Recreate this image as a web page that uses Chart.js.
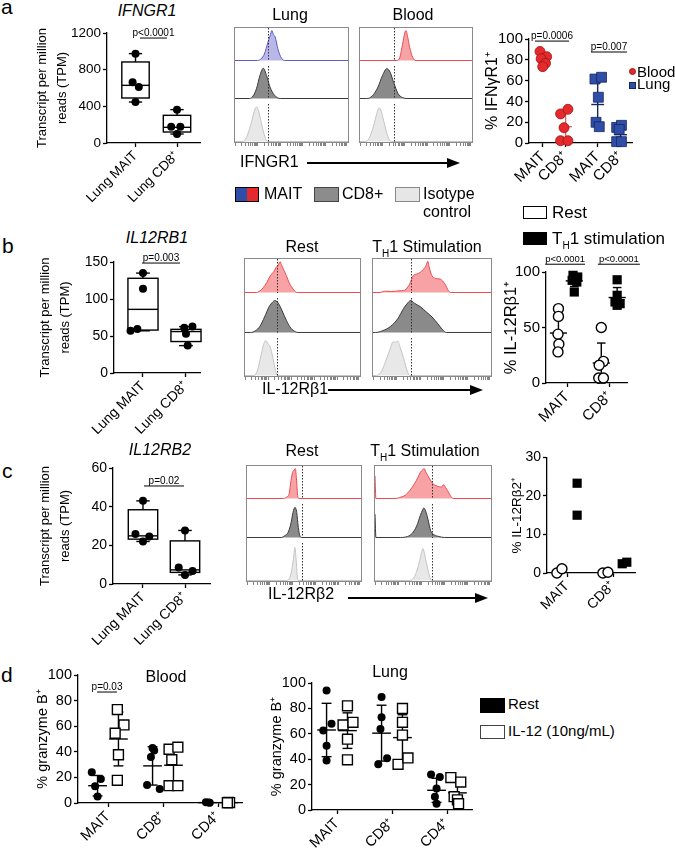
<!DOCTYPE html>
<html>
<head>
<meta charset="utf-8">
<script src="https://cdn.jsdelivr.net/npm/chart.js@4.4.1/dist/chart.umd.min.js"></script>
<style>
  html, body { margin: 0; padding: 0; background: #fff; }
  #fig { position: relative; width: 675px; height: 852px; overflow: hidden;
         font-family: "Liberation Sans", Arial, Helvetica, sans-serif; color: #000; }
  #fig canvas { position: absolute; }
  .t { position: absolute; white-space: nowrap; line-height: 1; }
  .r { position: absolute; box-sizing: border-box; }
  .sub { font-size: 10px; position: relative; top: 5px; }
</style>
</head>
<body>
<div id="fig"></div>
<script>
// ---------- data ----------

// a, left: IFNGR1 transcripts (TPM)
const tpmLabels = ['Lung MAIT', 'Lung CD8⁺'];
const ifngr1Mait = [975, 662, 611, 447];
const ifngr1MaitJit = [0, -0.07, 0.08, 0];
const ifngr1Cd8 = [364, 178, 178, 98];
const ifngr1Cd8Jit = [0, -0.14, 0.08, 0];
// box stats: min, q1, median, q3, max
const ifngr1MaitBox = [447, 491, 629, 884, 975];
const ifngr1Cd8Box = [98, 120, 171, 302, 364];

// b, left: IL12RB1 transcripts
const il12rb1Mait = [135, 114, 57, 59.5];
const il12rb1MaitJit = [0, 0, -0.29, -0.13];
const il12rb1Cd8 = [61, 62.7, 53, 37];
const il12rb1Cd8Jit = [-0.04, 0.15, 0, 0.04];
const il12rb1MaitBox = [57, 58, 86, 128, 135];
const il12rb1Cd8Box = [37, 42.5, 56, 59, 62.7];

// c, left: IL12RB2 transcripts
const il12rb2Mait = [43, 25.8, 24.6, 22];
const il12rb2MaitJit = [0, -0.18, 0.15, 0];
const il12rb2Cd8 = [27.7, 8.5, 6.7, 4.7];
const il12rb2Cd8Jit = [0, -0.15, 0.18, 0];
const il12rb2MaitBox = [22, 23.2, 24.9, 38.4, 43];
const il12rb2Cd8Box = [4.7, 6, 7.3, 22.3, 27.7];

// a, right: % IFNgR1+
const ifngCats = ['MAIT', 'CD8⁺', 'MAIT', 'CD8⁺'];
const ifngBloodMait = [88, 83, 81, 76.6, 73.4];
const ifngBloodMaitJit = [-0.12, 0.17, -0.07, 0.12, 0];
const ifngBloodCd8 = [28, 32.4, 14.7, 2.2, 2.2];
const ifngBloodCd8Jit = [-0.22, 0.1, -0.07, -0.22, 0.1];
const ifngLungMait = [61.5, 63.2, 44, 19.9, 15.7];
const ifngLungMaitJit = [-0.12, 0.17, 0.03, -0.07, 0.07];
const ifngLungCd8 = [15, 17, 13, 1.3, 1.3];
const ifngLungCd8Jit = [-0.17, 0.04, -0.06, -0.17, 0.04];
const ifngMean = [80, 15.7, 37, 8];
const ifngSd = [5, 14, 21, 7.5];

// b, right: % IL-12Rb1+
const rb1Cats = ['MAIT', 'CD8⁺'];
const rb1RestMait = [67, 60, 44, 35, 28];
const rb1RestMaitJit = [0, 0, -0.01, 0.01, -0.01];
const rb1StimMait = [97, 95.5, 92.5, 91, 82];
const rb1StimMaitJit = [-0.03, 0.08, -0.05, 0.06, 0];
const rb1RestCd8 = [50, 19.5, 16, 4.5, 4.5];
const rb1RestCd8Jit = [0, 0.05, -0.05, -0.06, 0.05];
const rb1StimCd8 = [93, 79, 73, 71.5, 70];
const rb1StimCd8Jit = [0, 0, -0.05, 0.07, 0];
const rb1RestMean = [45, 18];
const rb1RestSd = [16, 18];
const rb1StimMean = [92, 77];
const rb1StimSd = [5, 9];

// c, right: % IL-12Rb2+
const rb2Cats = ['MAIT', 'CD8⁺'];
const rb2RestMait = [0, 1.1];
const rb2StimMait = [23.3, 15];
const rb2RestCd8 = [0, 0.2];
const rb2StimCd8 = [2.4, 2.8];
const rb2RestJit = [-0.02, 0.09];
const rb2StimMaitJit = [0.02, 0.02];
const rb2StimCd8Jit = [0, 0.1];

// d: % granzyme B+
const gzbCats = ['MAIT', 'CD8⁺', 'CD4⁺'];
const bloodRestMait = [24, 18.7, 13, 5];
const bloodRestMaitJit = [-0.105, 0.06, -0.045, 0];
const bloodStimMait = [73, 61, 54.5, 37.7, 17.7];
const bloodStimMaitJit = [-0.02, 0.1, -0.06, 0, -0.02];
const bloodRestCd8 = [43, 41, 36, 14, 11];
const bloodRestCd8Jit = [0, 0.03, -0.03, -0.1, 0.13];
const bloodStimCd8 = [42, 43.6, 33.8, 13.5, 13.5];
const bloodStimCd8Jit = [-0.08, 0.08, -0.03, -0.08, 0.08];
const bloodRestCd4 = [0.5, 0.3, 0.2];
const bloodRestCd4Jit = [-0.03, 0.02, 0.04];
const bloodStimCd4 = [0.5, 0.3, 0.2];
const bloodStimCd4Jit = [0, 0.02, -0.02];
const bloodRestMean = [13.5, 29, 0.3];
const bloodRestSd = [8, 15, 0];
const bloodStimMean = [50, 29.5, 0.3];
const bloodStimSd = [21, 14, 0];

const lungRestMait = [94, 68, 62.6, 50.5, 38.9];
const lungRestMaitJit = [0, 0.09, -0.06, 0, 0];
const lungStimMait = [82, 67, 69, 55.8, 39.5];
const lungStimMaitJit = [0, -0.08, 0.1, 0, 0];
const lungRestCd8 = [89, 73, 63.7, 36, 40.8];
const lungRestCd8Jit = [0, 0, -0.02, -0.06, 0.1];
const lungStimCd8 = [80, 69, 59, 36, 41];
const lungStimCd8Jit = [0, 0, 0, -0.08, 0.1];
const lungRestCd4 = [28, 26, 17, 10.5, 5];
const lungRestCd4Jit = [-0.1, 0.06, 0, -0.03, 0];
const lungStimCd4 = [25.5, 22, 10.5, 8, 5];
const lungStimCd4Jit = [-0.12, 0.06, -0.06, 0, 0.02];
const lungRestMean = [63, 60.5, 15.5];
const lungRestSd = [21, 22, 9.5];
const lungStimMean = [62.5, 57, 13.5];
const lungStimSd = [14, 18, 8.5];

// flow histograms: [position (decades), % of mode]
const aLungMait = [[0,0],[1.0,0],[1.15,5],[1.3,20],[1.45,55],[1.55,75],[1.63,92],[1.7,80],[1.78,72],[1.9,35],[2.05,8],[2.2,0],[5,0]];
const aLungCd8 = [[0,0],[0.65,0],[0.8,8],[0.95,30],[1.1,70],[1.25,93],[1.4,70],[1.55,35],[1.75,10],[2.0,0],[5,0]];
const aLungIso = [[0,0],[0.35,0],[0.5,10],[0.7,45],[0.85,80],[0.95,92],[1.05,80],[1.2,40],[1.35,8],[1.45,0],[5,0]];
const aBloodMait = [[0,0],[1.65,0],[1.78,10],[1.9,50],[2.0,85],[2.05,92],[2.12,75],[2.22,40],[2.35,10],[2.5,0],[5,0]];
const aBloodCd8 = [[0,0],[0.3,0],[0.55,8],[0.8,35],[1.0,70],[1.2,92],[1.35,80],[1.5,50],[1.7,15],[1.9,3],[2.1,0],[5,0]];
const aBloodIso = [[0,0],[0.25,0],[0.4,8],[0.6,40],[0.75,75],[0.85,90],[0.95,80],[1.1,45],[1.25,12],[1.4,0],[5,0]];

const bRestMait = [[0,0],[0.5,0],[0.65,5],[0.8,15],[0.95,30],[1.1,50],[1.25,62],[1.35,75],[1.45,82],[1.52,92],[1.6,80],[1.7,65],[1.8,50],[1.95,25],[2.1,10],[2.25,0],[5,0]];
const bRestCd8 = [[0,0],[0.25,0],[0.45,5],[0.65,18],[0.85,45],[1.05,75],[1.2,88],[1.3,93],[1.45,85],[1.6,65],[1.8,35],[2.0,12],[2.2,2],[2.3,0],[5,0]];
const bRestIso = [[0,0],[0.4,0],[0.55,15],[0.7,55],[0.82,85],[0.9,93],[1.0,85],[1.1,75],[1.2,50],[1.3,20],[1.4,0],[5,0]];
const bStimMait = [[0,0],[0.3,0],[0.5,4],[0.8,3],[1.1,5],[1.3,6],[1.4,10],[1.55,25],[1.7,50],[1.85,55],[2.0,60],[2.15,70],[2.25,80],[2.32,93],[2.4,70],[2.5,50],[2.65,42],[2.85,40],[3.05,25],[3.2,5],[3.3,0],[5,0]];
const bStimCd8 = [[0,0],[0.1,0],[0.4,5],[0.75,18],[1.05,40],[1.3,70],[1.5,88],[1.6,93],[1.75,85],[2.0,75],[2.25,60],[2.5,45],[2.75,25],[2.95,8],[3.1,0],[5,0]];
const bStimIso = [[0,0],[0.15,0],[0.35,10],[0.55,40],[0.75,75],[0.85,90],[0.95,88],[1.05,92],[1.15,75],[1.3,45],[1.45,12],[1.55,0],[5,0]];

const cRestMait = [[0,0],[1.6,0],[1.75,5],[1.85,15],[1.93,55],[2.0,80],[2.07,88],[2.12,92],[2.17,60],[2.22,10],[2.28,0],[5,0]];
const cRestCd8 = [[0,0],[1.5,0],[1.65,5],[1.8,15],[1.92,40],[2.02,75],[2.1,90],[2.18,75],[2.25,30],[2.32,5],[2.38,0],[5,0]];
const cRestIso = [[0,0],[1.75,0],[1.88,8],[1.97,30],[2.05,65],[2.1,88],[2.15,60],[2.2,15],[2.25,0],[5,0]];
const cStimMait = [[0,70],[0.04,0],[0.9,0],[1.05,3],[1.3,10],[1.5,25],[1.7,45],[1.85,65],[1.95,80],[2.05,88],[2.12,92],[2.2,80],[2.28,70],[2.4,55],[2.55,42],[2.7,38],[2.85,35],[2.95,42],[3.05,33],[3.2,15],[3.3,3],[3.4,0],[5,0]];
const cStimCd8 = [[0,70],[0.04,0],[1.1,0],[1.4,3],[1.6,12],[1.8,35],[1.95,65],[2.05,82],[2.1,88],[2.18,80],[2.28,55],[2.4,20],[2.55,8],[2.75,3],[3.0,0],[5,0]];
const cStimIso = [[0,0],[1.5,0],[1.7,10],[1.85,35],[1.95,60],[2.02,78],[2.07,85],[2.12,75],[2.22,45],[2.35,12],[2.45,0],[5,0]];

// ---------- setup ----------
Chart.defaults.font.family = '"Liberation Sans", Arial, Helvetica, sans-serif';
Chart.defaults.color = '#000';

const fig = document.getElementById('fig');

const RED = '#e42a2c', RED_D = '#9c1414', BLUE = '#2f4ea8', BLUE_D = '#16265e';
const LUNG_H = ['#b9b7e8', '#5c5cc4'];
const BLOOD_H = ['#f7a3a6', '#ee4b50'];
const DARK_H = ['#8a8a8a', '#3a3a3a'];
const LIGHT_H = ['#e8e8e8', '#c4c4c4'];

const logMinor = [];
for (let d = 0; d < 5; d++) for (let k = 1; k < 10; k++) logMinor.push(d + Math.log10(k));
logMinor.push(5);

function addCanvas(x, y, w, h) {
  const c = document.createElement('canvas');
  c.width = Math.round(w); c.height = Math.round(h);
  c.style.left = Math.round(x) + 'px';
  c.style.top = Math.round(y) + 'px';
  fig.appendChild(c);
  return c;
}

function label(html, x, base, size, o = {}) {
  const d = document.createElement('div');
  d.className = 't';
  d.innerHTML = html;
  d.style.left = x + 'px';
  d.style.top = (base - 0.85 * size) + 'px';
  d.style.fontSize = size + 'px';
  if (o.center) d.style.transform = 'translateX(-50%)';
  if (o.italic) d.style.fontStyle = 'italic';
  fig.appendChild(d);
}

function rect(x0, y0, x1, y1, css) {
  const d = document.createElement('div');
  d.className = 'r';
  d.style.cssText = `left:${x0}px;top:${y0}px;width:${x1 - x0}px;height:${y1 - y0}px;` + css;
  fig.appendChild(d);
}

function arrow(x0, x1, y) {
  rect(x0, y - 0.7, x1 - 12, y + 0.7, 'background:#000');
  const h = document.createElement('div');
  h.className = 'r';
  h.style.cssText = `left:${x1 - 13}px;top:${y - 5.5}px;width:0;height:0;border-left:13px solid #000;border-top:5.5px solid transparent;border-bottom:5.5px solid transparent;`;
  fig.appendChild(h);
}

function seg(ctx, x0, y0, x1, y1) {
  ctx.beginPath(); ctx.moveTo(x0, y0); ctx.lineTo(x1, y1); ctx.stroke();
}

// boxes, mean/SD bars, p-value bars and gate lines, all placed through the chart scales
function marks(cfg) {
  return {
    id: 'marks',
    beforeDatasetsDraw(chart) {
      const ctx = chart.ctx, X = chart.scales.x, Y = chart.scales.y;
      ctx.save();
      ctx.lineWidth = 1.4;
      ctx.strokeStyle = '#000';
      (cfg.boxes || []).forEach(b => {
        const [mn, q1, md, q3, mx] = b.s;
        const xl = X.getPixelForValue(b.x - b.half), xr = X.getPixelForValue(b.x + b.half);
        const xc = X.getPixelForValue(b.x);
        const cl = X.getPixelForValue(b.x - b.cap), cr = X.getPixelForValue(b.x + b.cap);
        const pq1 = Y.getPixelForValue(q1), pq3 = Y.getPixelForValue(q3);
        ctx.strokeRect(xl, pq3, xr - xl, pq1 - pq3);
        seg(ctx, xl, Y.getPixelForValue(md), xr, Y.getPixelForValue(md));
        seg(ctx, xc, pq3, xc, Y.getPixelForValue(mx));
        seg(ctx, cl, Y.getPixelForValue(mx), cr, Y.getPixelForValue(mx));
        seg(ctx, xc, pq1, xc, Y.getPixelForValue(mn));
        seg(ctx, cl, Y.getPixelForValue(mn), cr, Y.getPixelForValue(mn));
      });
      (cfg.bars || []).forEach(b => {
        ctx.strokeStyle = b.color || '#000';
        const xc = X.getPixelForValue(b.x);
        const top = Y.getPixelForValue(b.mean + b.sd);
        const bot = Y.getPixelForValue(Math.max(b.mean - b.sd, 0));
        const cl = X.getPixelForValue(b.x - b.cap), cr = X.getPixelForValue(b.x + b.cap);
        if (b.sd > 0) {
          seg(ctx, xc, top, xc, bot);
          seg(ctx, cl, top, cr, top);
          seg(ctx, cl, bot, cr, bot);
        }
        const ml = X.getPixelForValue(b.x - b.half), mr = X.getPixelForValue(b.x + b.half);
        seg(ctx, ml, Y.getPixelForValue(b.mean), mr, Y.getPixelForValue(b.mean));
      });
      ctx.restore();
    },
    afterDatasetsDraw(chart) {
      const ctx = chart.ctx, X = chart.scales.x, Y = chart.scales.y, a = chart.chartArea;
      ctx.save();
      (cfg.gates || []).forEach(g => {
        const px = Math.round(X.getPixelForValue(g)) + 0.5;
        ctx.strokeStyle = '#333';
        ctx.lineWidth = 1;
        ctx.setLineDash([1.5, 1.5]);
        seg(ctx, px, a.top, px, a.bottom);
      });
      ctx.setLineDash([]);
      (cfg.sigs || []).forEach(s => {
        const x0 = X.getPixelForValue(s.x1), x1 = X.getPixelForValue(s.x2), py = Y.getPixelForValue(s.y);
        ctx.strokeStyle = '#000';
        ctx.lineWidth = 1;
        seg(ctx, x0, py, x1, py);
        ctx.fillStyle = '#000';
        ctx.font = (s.size || 10) + 'px "Liberation Sans", Arial, sans-serif';
        ctx.textAlign = 'center';
        ctx.textBaseline = 'alphabetic';
        ctx.fillText(s.text, (x0 + x1) / 2, py - 2);
      });
      ctx.restore();
    }
  };
}

function pts(cx, vals, jit) {
  return vals.map((v, i) => ({x: cx + (jit ? jit[i] : 0), y: v}));
}

function dots(data, style) {
  return Object.assign({data, clip: false}, style);
}

const blackDot = {pointStyle: 'circle', pointRadius: 4, pointBackgroundColor: '#000', pointBorderColor: '#000', pointBorderWidth: 0};
const openCircle = {pointStyle: 'circle', pointRadius: 5, pointBackgroundColor: '#fff', pointBorderColor: '#000', pointBorderWidth: 1.4};
const blackSquare = {pointStyle: 'rect', pointRadius: 6.5, pointBackgroundColor: '#000', pointBorderColor: '#000', pointBorderWidth: 0};
const openSquare = {pointStyle: 'rect', pointRadius: 7, pointBackgroundColor: '#fff', pointBorderColor: '#000', pointBorderWidth: 1.4};
const redDot = {pointStyle: 'circle', pointRadius: 5, pointBackgroundColor: RED, pointBorderColor: RED_D, pointBorderWidth: 0.8};
const blueSquare = {pointStyle: 'rect', pointRadius: 7, pointBackgroundColor: BLUE, pointBorderColor: BLUE_D, pointBorderWidth: 0.8};

function axisChart(o) {
  const [x0, y0, x1, y1] = o.area;
  const m = o.margin;
  const cv = addCanvas(x0 - m.l, y0 - m.t, x1 - x0 + m.l + m.r, y1 - y0 + m.t + m.b);
  const grid = {display: true, drawOnChartArea: false, drawTicks: true, tickLength: 4, tickWidth: 1.3, color: '#000'};
  const border = {color: '#000', width: 1.3};
  return new Chart(cv, {
    type: 'scatter',
    data: {datasets: o.datasets},
    options: {
      responsive: false,
      animation: false,
      events: [],
      layout: {padding: {left: 0, top: m.t, right: m.r, bottom: 0}, autoPadding: false},
      plugins: {legend: {display: false}, tooltip: {enabled: false}},
      scales: {
        x: {
          type: 'linear', min: o.xMin, max: o.xMax,
          afterBuildTicks: s => { s.ticks = o.xTicks.map(v => ({value: v})); },
          afterFit: s => { s.height = m.b; },
          ticks: {autoSkip: false, minRotation: 45, maxRotation: 45, padding: 1, color: '#000',
                  font: {size: o.fs}, callback: (v, i) => o.xLabels[i]},
          grid, border
        },
        y: {
          min: o.yMin, max: o.yMax,
          afterFit: s => { s.width = m.l; },
          ticks: {stepSize: o.yStep, autoSkip: false, padding: 2, color: '#000',
                  font: {size: o.fs}, callback: v => String(v)},
          grid, border,
          title: {display: true, text: o.yTitle, padding: 0, color: '#000',
                  font: {size: o.tfs, lineHeight: o.tlh || 1.2}}
        }
      }
    },
    plugins: [marks(o.marks || {})]
  });
}

function histTrack(x, y, w, h, data, colors, gate, withTicks) {
  const cv = addCanvas(x, y, w, h + (withTicks ? 5 : 0));
  return new Chart(cv, {
    type: 'line',
    data: {datasets: [{
      data: data.map(p => ({x: p[0], y: p[1]})),
      backgroundColor: colors[0], borderColor: colors[1], borderWidth: 1,
      fill: 'origin', pointRadius: 0, cubicInterpolationMode: 'monotone'
    }]},
    options: {
      responsive: false,
      animation: false,
      events: [],
      layout: {padding: 0, autoPadding: false},
      plugins: {legend: {display: false}, tooltip: {enabled: false}},
      scales: {
        x: {
          type: 'linear', min: 0, max: 5, display: withTicks,
          afterBuildTicks: s => { s.ticks = logMinor.map(v => ({value: v})); },
          afterFit: s => { s.height = 5; },
          ticks: {display: false},
          grid: {drawOnChartArea: false, drawTicks: true, tickLength: 4, tickWidth: 0.8, color: '#666'},
          border: {display: false}
        },
        y: {display: false, min: -1.5, max: 100}
      }
    },
    plugins: [marks({gates: [gate]})]
  });
}

// ---------- panel a ----------
axisChart({
  area: [107, 33, 200, 143], margin: {l: 75, t: 12, r: 8, b: 72},
  xMin: 0.313, xMax: 2.554, xTicks: [1, 2], xLabels: tpmLabels,
  yMin: 0, yMax: 1200, yStep: 400, fs: 13.5,
  yTitle: ['Transcript per million', 'reads (TPM)'], tfs: 13, tlh: 1.55,
  datasets: [dots(pts(1, ifngr1Mait, ifngr1MaitJit), blackDot), dots(pts(2, ifngr1Cd8, ifngr1Cd8Jit), blackDot)],
  marks: {
    boxes: [{x: 1, half: 0.33, cap: 0.16, s: ifngr1MaitBox}, {x: 2, half: 0.33, cap: 0.16, s: ifngr1Cd8Box}],
    sigs: [{x1: 1.108, x2: 1.759, y: 1145, text: 'p<0.0001'}]
  }
});

const ifngPos = [1, 2, 3.4, 4.4];
const ifngColors = ['#c23a3a', '#e06a6a', BLUE_D, BLUE_D];
axisChart({
  area: [529, 39, 632, 143], margin: {l: 46, t: 12, r: 10, b: 45},
  xMin: 0.4, xMax: 4.9, xTicks: ifngPos, xLabels: ifngCats,
  yMin: 0, yMax: 100, yStep: 20, fs: 15,
  yTitle: '% IFNγR1⁺', tfs: 16,
  datasets: [
    dots(pts(ifngPos[0], ifngBloodMait, ifngBloodMaitJit), redDot),
    dots(pts(ifngPos[1], ifngBloodCd8, ifngBloodCd8Jit), redDot),
    dots(pts(ifngPos[2], ifngLungMait, ifngLungMaitJit), blueSquare),
    dots(pts(ifngPos[3], ifngLungCd8, ifngLungCd8Jit), blueSquare)
  ],
  marks: {
    bars: ifngMean.map((mv, i) => ({x: ifngPos[i], mean: mv, sd: ifngSd[i], half: 0.28, cap: 0.13, color: ifngColors[i]})),
    sigs: [{x1: 0.66, x2: 2.15, y: 98, text: 'p=0.0006'}, {x1: 3.11, x2: 4.68, y: 87.5, text: 'p=0.007'}]
  }
});

// ---------- panel b ----------
axisChart({
  area: [114, 262, 200, 373], margin: {l: 79, t: 12, r: 8, b: 72},
  xMin: 0.326, xMax: 2.326, xTicks: [1, 2], xLabels: tpmLabels,
  yMin: 0, yMax: 150, yStep: 50, fs: 14,
  yTitle: ['Transcript per million', 'reads (TPM)'], tfs: 13, tlh: 1.55,
  datasets: [dots(pts(1, il12rb1Mait, il12rb1MaitJit), blackDot), dots(pts(2, il12rb1Cd8, il12rb1Cd8Jit), blackDot)],
  marks: {
    boxes: [{x: 1, half: 0.35, cap: 0.16, s: il12rb1MaitBox}, {x: 2, half: 0.35, cap: 0.16, s: il12rb1Cd8Box}],
    sigs: [{x1: 0.977, x2: 1.86, y: 148.6, text: 'p=0.003'}]
  }
});

const bRestOff = -0.2, bStimOff = 0.17;
axisChart({
  area: [546, 272, 627, 383], margin: {l: 44, t: 22, r: 18, b: 45},
  xMin: 0.51, xMax: 2.4, xTicks: [1, 2], xLabels: rb1Cats,
  yMin: 0, yMax: 100, yStep: 50, fs: 15,
  yTitle: '% IL-12Rβ1⁺', tfs: 16.5,
  datasets: [
    dots(pts(1 + bRestOff, rb1RestMait, rb1RestMaitJit), openCircle),
    dots(pts(1 + bStimOff, rb1StimMait, rb1StimMaitJit), blackSquare),
    dots(pts(2 + bRestOff, rb1RestCd8, rb1RestCd8Jit), openCircle),
    dots(pts(2 + bStimOff, rb1StimCd8, rb1StimCd8Jit), blackSquare)
  ],
  marks: {
    bars: [
      ...rb1RestMean.map((mv, i) => ({x: i + 1 + bRestOff, mean: mv, sd: rb1RestSd[i], half: 0.2, cap: 0.1})),
      ...rb1StimMean.map((mv, i) => ({x: i + 1 + bStimOff, mean: mv, sd: rb1StimSd[i], half: 0.2, cap: 0.1}))
    ],
    sigs: [{x1: 0.49, x2: 1.42, y: 107, text: 'p<0.0001', size: 9.5}, {x1: 1.72, x2: 2.7, y: 107, text: 'p<0.0001', size: 9.5}]
  }
});

// ---------- panel c ----------
axisChart({
  area: [113, 468, 210, 584], margin: {l: 78, t: 12, r: 8, b: 68},
  xMin: 0.286, xMax: 2.595, xTicks: [1, 2], xLabels: tpmLabels,
  yMin: 0, yMax: 60, yStep: 20, fs: 14,
  yTitle: ['Transcript per million', 'reads (TPM)'], tfs: 13, tlh: 1.55,
  datasets: [dots(pts(1, il12rb2Mait, il12rb2MaitJit), blackDot), dots(pts(2, il12rb2Cd8, il12rb2Cd8Jit), blackDot)],
  marks: {
    boxes: [{x: 1, half: 0.35, cap: 0.16, s: il12rb2MaitBox}, {x: 2, half: 0.35, cap: 0.16, s: il12rb2Cd8Box}],
    sigs: [{x1: 1.024, x2: 1.976, y: 50.7, text: 'p=0.02'}]
  }
});

const cRestOff = -0.2, cStimOff = 0.2;
axisChart({
  area: [547, 457, 635, 573], margin: {l: 38, t: 10, r: 8, b: 45},
  xMin: 0.565, xMax: 2.478, xTicks: [1, 2], xLabels: rb2Cats,
  yMin: 0, yMax: 30, yStep: 10, fs: 14,
  yTitle: '% IL-12Rβ2⁺', tfs: 13.5,
  datasets: [
    dots(pts(1 + cRestOff, rb2RestMait, rb2RestJit), openCircle),
    dots(pts(1 + cStimOff, rb2StimMait, rb2StimMaitJit), blackSquare),
    dots(pts(2 + cRestOff, rb2RestCd8, rb2RestJit), openCircle),
    dots(pts(2 + cStimOff, rb2StimCd8, rb2StimCd8Jit), blackSquare)
  ]
});

// ---------- panel d ----------
const dRest = -0.19, dStim = 0.19;
axisChart({
  area: [78, 675, 242, 803], margin: {l: 44, t: 12, r: 8, b: 45},
  xMin: 0.4545, xMax: 3.436, xTicks: [1, 2, 3], xLabels: gzbCats,
  yMin: 0, yMax: 100, yStep: 20, fs: 14.5,
  yTitle: '% granzyme B⁺', tfs: 14.5,
  datasets: [
    dots(pts(1 + dRest, bloodRestMait, bloodRestMaitJit), blackDot),
    dots(pts(2 + dRest, bloodRestCd8, bloodRestCd8Jit), blackDot),
    dots(pts(3 + dRest, bloodRestCd4, bloodRestCd4Jit), blackDot),
    dots(pts(1 + dStim, bloodStimMait, bloodStimMaitJit), openSquare),
    dots(pts(2 + dStim, bloodStimCd8, bloodStimCd8Jit), openSquare),
    dots(pts(3 + dStim, bloodStimCd4, bloodStimCd4Jit), openSquare)
  ],
  marks: {
    bars: [
      ...bloodRestMean.map((mv, i) => ({x: i + 1 + dRest, mean: mv, sd: bloodRestSd[i], half: 0.17, cap: 0.09})),
      ...bloodStimMean.map((mv, i) => ({x: i + 1 + dStim, mean: mv, sd: bloodStimSd[i], half: 0.17, cap: 0.09}))
    ],
    sigs: [{x1: 0.8, x2: 1.164, y: 86.7, text: 'p=0.03'}]
  }
});

axisChart({
  area: [312, 683, 472, 810], margin: {l: 44, t: 12, r: 8, b: 42},
  xMin: 0.545, xMax: 3.4545, xTicks: [1, 2, 3], xLabels: gzbCats,
  yMin: 0, yMax: 100, yStep: 20, fs: 14.5,
  yTitle: '% granzyme B⁺', tfs: 14.5,
  datasets: [
    dots(pts(1 + dRest, lungRestMait, lungRestMaitJit), blackDot),
    dots(pts(2 + dRest, lungRestCd8, lungRestCd8Jit), blackDot),
    dots(pts(3 + dRest, lungRestCd4, lungRestCd4Jit), blackDot),
    dots(pts(1 + dStim, lungStimMait, lungStimMaitJit), openSquare),
    dots(pts(2 + dStim, lungStimCd8, lungStimCd8Jit), openSquare),
    dots(pts(3 + dStim, lungStimCd4, lungStimCd4Jit), openSquare)
  ],
  marks: {
    bars: [
      ...lungRestMean.map((mv, i) => ({x: i + 1 + dRest, mean: mv, sd: lungRestSd[i], half: 0.17, cap: 0.09})),
      ...lungStimMean.map((mv, i) => ({x: i + 1 + dStim, mean: mv, sd: lungStimSd[i], half: 0.17, cap: 0.09}))
    ]
  }
});

// ---------- flow histograms ----------
const histPanels = [
  {box: [234, 27, 349, 143], cuts: [66, 104], tracks: [aLungMait, aLungCd8, aLungIso], top: LUNG_H, gate: 1.45},
  {box: [359, 27, 473, 143], cuts: [66, 104], tracks: [aBloodMait, aBloodCd8, aBloodIso], top: BLOOD_H, gate: 1.5},
  {box: [244, 258, 361, 377], cuts: [298, 338], tracks: [bRestMait, bRestCd8, bRestIso], top: BLOOD_H, gate: 1.4},
  {box: [372, 258, 492, 377], cuts: [298, 338], tracks: [bStimMait, bStimCd8, bStimIso], top: BLOOD_H, gate: 1.63},
  {box: [246, 465, 362, 582], cuts: [504, 543], tracks: [cRestMait, cRestCd8, cRestIso], top: BLOOD_H, gate: 2.4},
  {box: [374, 465, 492, 582], cuts: [504, 543], tracks: [cStimMait, cStimCd8, cStimIso], top: BLOOD_H, gate: 2.45}
];
histPanels.forEach(p => {
  const [x0, y0, x1, y1] = p.box;
  const ys = [y0 + 1, p.cuts[0], p.cuts[1], y1 - 1];
  const cols = [p.top, DARK_H, LIGHT_H];
  for (let i = 0; i < 3; i++) {
    histTrack(x0 + 1, ys[i], x1 - x0 - 2, ys[i + 1] - ys[i], p.tracks[i], cols[i], p.gate, i === 2);
  }
  rect(x0, y0, x1, y1, 'border:1px solid #8a8a8a');
});

// ---------- text, legends, arrows ----------
label('a', 1, 14, 21);
label('b', 2, 253, 21);
label('c', 2, 478, 21);
label('d', 1, 682, 21);

label('IFNGR1', 147, 17, 16, {center: true, italic: true});
label('IL12RB1', 157, 244, 16, {center: true, italic: true});
label('IL12RB2', 160, 456, 16, {center: true, italic: true});

label('Lung', 290, 21, 16, {center: true});
label('Blood', 413, 21, 16, {center: true});
label('Rest', 302, 253, 16, {center: true});
label('T<span class="sub">H</span>1 Stimulation', 427, 253, 16, {center: true});
label('Rest', 302, 457, 16, {center: true});
label('T<span class="sub">H</span>1 Stimulation', 425, 457, 16, {center: true});

label('IFNGR1', 240, 168, 16);
arrow(307, 460, 163);
label('IL-12Rβ1', 262, 395, 16);
arrow(328, 483, 390);
label('IL-12Rβ2', 268, 600, 16);
arrow(348, 488, 598);

// histogram legend
rect(235, 187, 247, 202, 'background:' + BLUE + ';border:1px solid #000;border-right:none');
rect(247, 187, 259, 202, 'background:' + RED + ';border:1px solid #000;border-left:none');
label('MAIT', 264, 200, 16);
rect(314, 187, 339, 202, 'background:#8c8c8c;border:1px solid #444');
label('CD8+', 342, 200, 16);
rect(395, 187, 420, 202, 'background:#e6e6e6;border:1px solid #888');
label('Isotype', 423, 200, 16);
label('control', 423, 218, 16);

// a right legend
rect(628.5, 67.5, 635.5, 74.5, 'background:' + RED + ';border-radius:50%;border:0.8px solid ' + RED_D);
label('Blood', 637, 76.5, 15);
rect(628.5, 81.5, 635.5, 88.5, 'background:' + BLUE + ';border:0.8px solid ' + BLUE_D);
label('Lung', 637, 88.5, 15);

// b legend
rect(523, 206, 547, 219, 'background:#fff;border:1px solid #000');
label('Rest', 552, 218, 17);
rect(523, 232, 547, 245, 'background:#000');
label('T<span class="sub">H</span>1 stimulation', 552, 244, 17);

// d titles and legend
label('Blood', 166, 683, 16, {center: true});
label('Lung', 390, 678, 16, {center: true});
rect(480, 698, 505, 713, 'background:#000');
label('Rest', 508, 709, 15);
rect(480, 725, 505, 739, 'background:#fff;border:1px solid #444');
label('IL-12 (10ng/mL)', 508, 736, 15);
</script>
</body>
</html>
